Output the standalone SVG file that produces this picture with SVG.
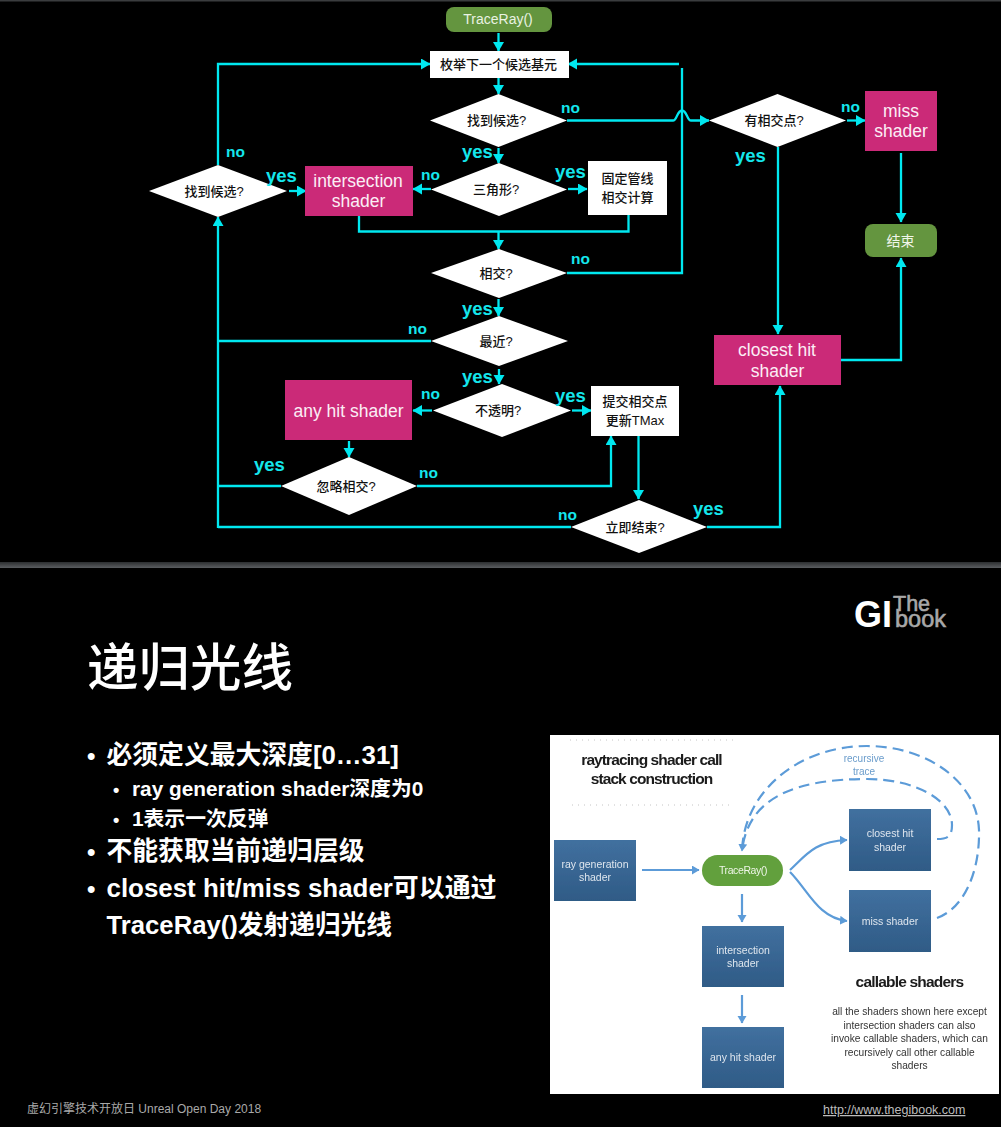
<svg xmlns="http://www.w3.org/2000/svg" width="1001" height="1127" viewBox="0 0 1001 1127">
<style>
text{font-family:"Liberation Sans","Noto Sans CJK SC",sans-serif}
.c{fill:none;stroke:#00e8f0;stroke-width:2.300}
.a{marker-end:url(#ah)}
.d{fill:#fff}
.w{fill:#fff}
.m{fill:#cb2a78}
.g{fill:#64953f}
.t{font-size:13px;fill:#111;text-anchor:middle;font-weight:500}
.s{font-size:17.500px;fill:#fbeef5;text-anchor:middle}
.y{font-size:18.500px;font-weight:700;fill:#14e6ec}
.n{font-size:15.500px;font-weight:700;fill:#14e6ec}
.b{fill:#fff;font-weight:700}
.bl{fill:url(#bg)}
.bt{font-size:10.500px;fill:#dfe6ee;text-anchor:middle}
.p{fill:none;stroke:#5b9bd8;stroke-width:2.200}
.pd{stroke-dasharray:11 6}
.pa{marker-end:url(#pah)}
.k{font-size:10.200px;fill:#333;text-anchor:middle}
</style>
<defs>
<marker id="ah" markerUnits="userSpaceOnUse" markerWidth="11" markerHeight="12" refX="9" refY="5.500" orient="auto"><path d="M0 0L9.500 5.500L0 11z" fill="#00e8f0"/></marker>
<marker id="pah" markerUnits="userSpaceOnUse" markerWidth="9" markerHeight="10" refX="7" refY="4.500" orient="auto"><path d="M0 0L7.500 4.500L0 9z" fill="#5b9bd8"/></marker>
<linearGradient id="bg" x1="0" y1="0" x2="0" y2="1"><stop offset="0" stop-color="#41709f"/><stop offset="1" stop-color="#2f5b86"/></linearGradient>
<linearGradient id="sep" x1="0" y1="0" x2="0" y2="1"><stop offset="0" stop-color="#2c2e30"/><stop offset="1" stop-color="#5a5d60"/></linearGradient>
<filter id="soft" x="-2%" y="-2%" width="104%" height="104%"><feGaussianBlur stdDeviation="0.550"/></filter>
</defs>
<rect width="1001" height="1127" fill="#000"/>
<rect width="1001" height="1.500" fill="#3a3c3e"/>
<rect y="562" width="1001" height="6" fill="url(#sep)"/>

<g id="connectors">
<path class="c a" d="M498.500 33V51"/>
<path class="c a" d="M498.500 78V94"/>
<path class="c a" d="M567 120.500H673C677 120.500 677 110.500 682 110.500C687 110.500 687 120.500 691 120.500H709"/>
<path class="c a" d="M498.500 148V163"/>
<path class="c a" d="M431 189H413"/>
<path class="c a" d="M568 189H587"/>
<path class="c a" d="M289 191H306"/>
<path class="c" d="M359 216V231.500H628.500V215"/>
<path class="c a" d="M498.500 232V249"/>
<path class="c" d="M567 273H682V68"/>
<path class="c a" d="M679 64H568"/>
<path class="c a" d="M218 165V64H430"/>
<path class="c a" d="M498.500 299V316"/>
<path class="c" d="M431 341H218"/>
<path class="c a" d="M499 369V384"/>
<path class="c a" d="M218 528V217"/>
<path class="c a" d="M432 410.500H413"/>
<path class="c a" d="M572 410.500H591"/>
<path class="c a" d="M349 441V457"/>
<path class="c" d="M281 486H218"/>
<path class="c a" d="M417 486H611V436"/>
<path class="c a" d="M638.500 436V499"/>
<path class="c" d="M571 527H218"/>
<path class="c a" d="M707 527H780V386"/>
<path class="c a" d="M778 147V334"/>
<path class="c a" d="M847 120.500H865"/>
<path class="c a" d="M901 153V222"/>
<path class="c a" d="M841 360H901V258"/>
</g>

<g id="n-traceray"><rect class="g" x="446" y="7" width="106" height="25" rx="8"/><text x="498" y="24" font-size="14" fill="#e9f2e2" text-anchor="middle">TraceRay()</text></g>
<g id="n-enum"><rect class="w" x="430" y="51" width="139" height="27"/><text class="t" x="498.500" y="69">枚举下一个候选基元</text></g>
<g id="n-found1"><path class="d" d="M430 120.500L498.500 94L567 120.500L498.500 147z"/><text class="t" x="496.500" y="125">找到候选?</text></g>
<g id="n-hit"><path class="d" d="M709 120.500L777.500 94L846 120.500L777.500 147z"/><text class="t" x="774" y="125">有相交点?</text></g>
<g id="n-miss"><rect class="m" x="865" y="91" width="72" height="60"/><text class="s" x="901" y="117">miss</text><text class="s" x="901" y="137">shader</text></g>
<g id="n-end"><rect class="g" x="865" y="224" width="72" height="33" rx="8"/><text x="900.500" y="246" font-size="14" fill="#f0f6ea" text-anchor="middle">结束</text></g>
<g id="n-found2"><path class="d" d="M149 191L218 165L287 191L218 217z"/><text class="t" x="214" y="196">找到候选?</text></g>
<g id="n-inter"><rect class="m" x="305" y="166" width="108" height="50"/><text class="s" x="358" y="187">intersection</text><text class="s" x="358.500" y="207">shader</text></g>
<g id="n-tri"><path class="d" d="M431 189.500L499 163L567 189.500L499 216z"/><text class="t" x="496" y="194">三角形?</text></g>
<g id="n-fixed"><rect class="w" x="588" y="161" width="79" height="54"/><text class="t" x="627.500" y="183">固定管线</text><text class="t" x="627.500" y="202">相交计算</text></g>
<g id="n-isect"><path class="d" d="M431 273L499 249L567 273L499 298z"/><text class="t" x="496" y="278">相交?</text></g>
<g id="n-near"><path class="d" d="M431 341L499 316L568 341L499 366z"/><text class="t" x="496" y="346">最近?</text></g>
<g id="n-opaque"><path class="d" d="M433 410.500L502 384L571 410.500L502 437z"/><text class="t" x="498" y="415">不透明?</text></g>
<g id="n-anyhit"><rect class="m" x="285" y="380" width="127" height="60"/><text class="s" x="348.500" y="417">any hit shader</text></g>
<g id="n-commit"><rect class="w" x="591" y="386" width="88" height="50"/><text class="t" x="635" y="406">提交相交点</text><text class="t" x="635" y="425">更新TMax</text></g>
<g id="n-ignore"><path class="d" d="M281 486L349 457L417 486L349 515z"/><text class="t" x="346" y="491">忽略相交?</text></g>
<g id="n-stop"><path class="d" d="M571 527L639 500L707 527L639 553z"/><text class="t" x="635" y="532">立即结束?</text></g>
<g id="n-closest"><rect class="m" x="714" y="335" width="127" height="50"/><text class="s" x="777" y="356">closest hit</text><text class="s" x="777.500" y="377">shader</text></g>

<g id="labels">
<text class="n" x="561" y="113">no</text><text class="y" x="462" y="158">yes</text><text class="y" x="266" y="182">yes</text><text class="n" x="421" y="180">no</text><text class="n" x="226" y="157">no</text><text class="y" x="555" y="178">yes</text><text class="n" x="571" y="264">no</text><text class="n" x="841" y="112">no</text><text class="y" x="735" y="162">yes</text>
<text class="y" x="462" y="315">yes</text><text class="n" x="408" y="334">no</text><text class="y" x="462" y="383">yes</text><text class="n" x="421" y="399">no</text><text class="y" x="555" y="402">yes</text><text class="y" x="254" y="471">yes</text><text class="n" x="419" y="478">no</text><text class="n" x="558" y="520">no</text><text class="y" x="693" y="515">yes</text>
</g>

<g id="logo"><text x="854" y="627" font-size="36" font-weight="700" fill="#fff">GI</text><text x="893" y="611" font-size="21.500" fill="#a8a8a8" stroke="#a8a8a8" stroke-width="0.600">The</text><text x="895" y="627" font-size="23.500" fill="#a8a8a8" stroke="#a8a8a8" stroke-width="0.600">book</text></g>

<g id="slide-text">
<text x="87" y="686" font-size="51.500" fill="#fff" font-weight="500">递归光线</text>
<text class="b" x="87" y="764" font-size="24">•</text><text class="b" x="106.500" y="764" font-size="25.800">必须定义最大深度[0…31]</text>
<text class="b" x="113" y="796" font-size="18">•</text><text class="b" x="132" y="796" font-size="20.800">ray generation shader深度为0</text>
<text class="b" x="113" y="826" font-size="18">•</text><text class="b" x="132" y="826" font-size="20.800">1表示一次反弹</text>
<text class="b" x="87" y="860" font-size="24">•</text><text class="b" x="106.500" y="860" font-size="25.800">不能获取当前递归层级</text>
<text class="b" x="87" y="897" font-size="24">•</text><text class="b" x="106.500" y="897" font-size="25.900">closest hit/miss shader可以通过</text>
<text class="b" x="106.500" y="934" font-size="25.700">TraceRay()发射递归光线</text>
<text x="27" y="1113" font-size="12" fill="#a9a9a9">虚幻引擎技术开放日 Unreal Open Day 2018</text>
<text x="823" y="1114" font-size="12.500" fill="#bdbdbd" text-decoration="underline">http://www.thegibook.com</text>
</g>

<g id="inset">
<rect x="550" y="735" width="449" height="359" fill="#fff"/>
<g filter="url(#soft)">
<path d="M570 740H733M572 805H730" stroke="#c4c4c4" stroke-width="1" stroke-dasharray="1 5" fill="none"/>
<text x="651.500" y="765" font-size="15.500" font-weight="700" fill="#1a1a1a" text-anchor="middle" letter-spacing="-0.900">raytracing shader call</text>
<text x="651.500" y="784" font-size="15.500" font-weight="700" fill="#1a1a1a" text-anchor="middle" letter-spacing="-0.900">stack construction</text>
<text x="864" y="762" font-size="10" fill="#6a9ccb" text-anchor="middle">recursive</text>
<text x="864" y="775" font-size="10" fill="#6a9ccb" text-anchor="middle">trace</text>
<path class="p pa" d="M642 870H699"/>
<path class="p pd" d="M937 918C965 908 980 870 979 830C977 780 925 746 867 746C800 746 744 790 742 851"/>
<path class="p pd pa" d="M937 839C948 839 952 836 952 825C952 800 915 779 867 779C800 779 748 795 742 851"/>
<path class="p pa" d="M790 870C806 855 815 841 847 840"/>
<path class="p pa" d="M790 872C808 890 818 918 847 921"/>
<path class="p pa" d="M742 894V922"/>
<path class="p pa" d="M742 995V1023"/>
<g id="i-raygen"><rect class="bl" x="554" y="840" width="82" height="61"/><text class="bt" x="595" y="868">ray generation</text><text class="bt" x="595" y="881">shader</text></g>
<g id="i-traceray"><rect x="702" y="855" width="81" height="31" rx="15.500" fill="#62a03c"/><text x="743" y="874" font-size="10.500" fill="#eef5e8" text-anchor="middle" letter-spacing="-0.400">TraceRay()</text></g>
<g id="i-closest"><rect class="bl" x="849" y="809" width="82" height="62"/><text class="bt" x="890" y="837">closest hit</text><text class="bt" x="890" y="851">shader</text></g>
<g id="i-miss"><rect class="bl" x="849" y="890" width="82" height="62"/><text class="bt" x="890" y="925">miss shader</text></g>
<g id="i-inter"><rect class="bl" x="702" y="926" width="82" height="61"/><text class="bt" x="743" y="954">intersection</text><text class="bt" x="743" y="967">shader</text></g>
<g id="i-any"><rect class="bl" x="702" y="1027" width="82" height="61"/><text class="bt" x="743" y="1061">any hit shader</text></g>
<text x="909.500" y="987" font-size="15.500" font-weight="700" fill="#1a1a1a" text-anchor="middle" letter-spacing="-0.800">callable shaders</text>
<text class="k" x="909.500" y="1015">all the shaders shown here except</text>
<text class="k" x="909.500" y="1029">intersection shaders can also</text>
<text class="k" x="909.500" y="1042">invoke callable shaders, which can</text>
<text class="k" x="909.500" y="1056">recursively call other callable</text>
<text class="k" x="909.500" y="1069">shaders</text>
</g>
</g>
</svg>
